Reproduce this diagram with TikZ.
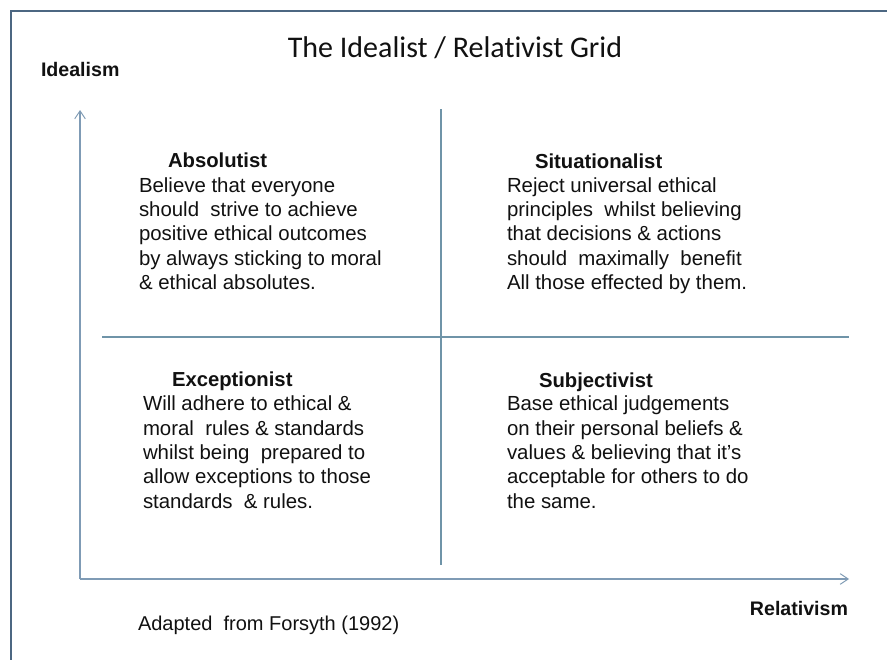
\documentclass[tikz,border=0pt]{standalone}
\usepackage{fontspec}
\setmainfont[Ligatures=NoCommon]{Liberation Sans}
\newfontfamily\titlefont[Ligatures=NoCommon]{Carlito}
\usetikzlibrary{arrows.meta}
\definecolor{bordercol}{HTML}{4C6782}
\definecolor{axiscol}{HTML}{7F9BB5}
\definecolor{gridcol}{HTML}{6F94A8}
\definecolor{txt}{HTML}{111111}
\begin{document}
\begin{tikzpicture}[x=0.75pt,y=-0.75pt,
  every node/.style={inner sep=0pt, outer sep=0pt, text=txt},
  bodytext/.style={anchor=base west, align=left, font=\fontsize{15.3}{18.225}\selectfont},
  headtext/.style={anchor=base west, font=\fontsize{15.2}{18.2}\selectfont\bfseries},
  axislabel/.style={font=\fontsize{14.7}{17}\selectfont\bfseries},
  axisline/.style={draw=axiscol, line width=0.9pt, -{Straight Barb[length=6pt,width=8pt,line width=0.7pt]}},
  gridline/.style={draw=gridcol, line width=1.1pt}]
\useasboundingbox (0,0) rectangle (887,660);
\fill[white] (0,0) rectangle (887,660);
% frame
\draw[bordercol, line width=1.9pt] (887,11) -- (11,11) -- (11,660);
% title and labels
\node[anchor=base, font=\titlefont\fontsize{22.5}{27}\selectfont] (title) at (455,58) {The Idealist / Relativist Grid};
\node[axislabel, anchor=base west] (ideal) at (41,76) {Idealism};
\node[axislabel, anchor=base east] (rel) at (848,615) {Relativism};
\node[anchor=base west, font=\fontsize{15}{18}\selectfont] (src) at (138,630) {Adapted\ \ from Forsyth (1992)};
% axes
\coordinate (origin) at (80,579);
\coordinate (ytip) at (80,110);
\coordinate (xtip) at (849,579);
\draw[axisline] (origin) -- (ytip);
\draw[axisline] (origin) -- (xtip);
% grid lines
\coordinate (vtop) at (441,109);
\coordinate (vbot) at (441,565);
\coordinate (hleft) at (102,337);
\coordinate (hright) at (849,337);
\draw[gridline] (vtop) -- (vbot);
\draw[gridline] (hleft) -- (hright);
% quadrants (body nodes anchored at the baseline of their last line)
\node[headtext] (absh) at (168,167) {Absolutist};
\node[bodytext] (absb) at (139,289.5) {Believe that everyone\\should\ \ strive to achieve\\positive ethical outcomes\\by always sticking to moral\\\& ethical absolutes.};
\node[headtext] (sith) at (535,168) {Situationalist};
\node[bodytext] (sitb) at (507,289.5) {Reject universal ethical\\principles\ \ whilst believing\\that decisions \& actions\\should\ \ maximally\ \ benefit\\All those effected by them.};
\node[headtext] (exch) at (172,386) {Exceptionist};
\node[bodytext] (excb) at (143,508) {Will adhere to ethical \&\\moral\ \ rules \& standards\\whilst being\ \ prepared to\\allow exceptions to those\\standards\ \ \& rules.};
\node[headtext] (subh) at (539,387) {Subjectivist};
\node[bodytext] (subb) at (507,508) {Base ethical judgements\\on their personal beliefs \&\\values \& believing that it’s\\acceptable for others to do\\the same.};
\end{tikzpicture}
\end{document}
